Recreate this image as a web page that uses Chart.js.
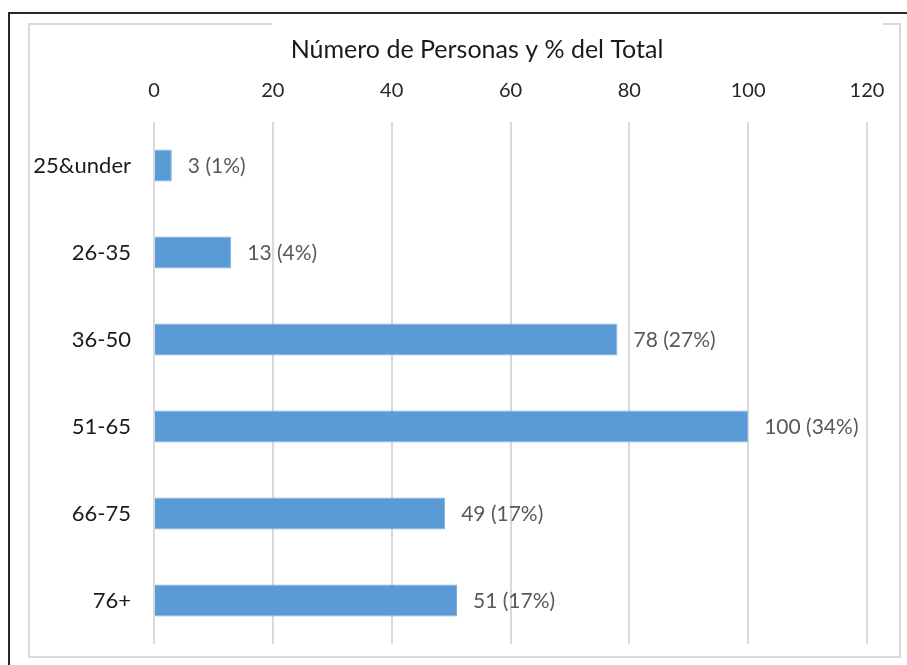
<!DOCTYPE html>
<html>
<head>
<meta charset="utf-8">
<script src="https://cdn.jsdelivr.net/npm/chart.js@4"></script>
<style>
  html, body { margin: 0; padding: 0; background: #fff; }
  #wrap { position: relative; width: 907px; height: 665px; overflow: hidden; }
  .ln { position: absolute; }
  #chart { position: absolute; left: 0; top: 0; }
</style>
</head>
<body>
<div id="wrap">
  <!-- outer black frame (cut off on the right and bottom) -->
  <div class="ln" style="left:8px;top:12px;width:899px;height:2px;background:#262626"></div>
  <div class="ln" style="left:8px;top:12px;width:2px;height:653px;background:#262626"></div>
  <!-- light grey chart box -->
  <div class="ln" style="left:28px;top:23px;width:244px;height:2px;background:#d9d9d9"></div>
  <div class="ln" style="left:883px;top:23px;width:18px;height:2px;background:#d9d9d9"></div>
  <div class="ln" style="left:28px;top:23px;width:2px;height:635px;background:#d9d9d9"></div>
  <div class="ln" style="left:899px;top:23px;width:2px;height:635px;background:#d9d9d9"></div>
  <div class="ln" style="left:28px;top:656px;width:873px;height:2px;background:#d9d9d9"></div>
  <canvas id="chart" width="907" height="665"></canvas>
</div>
<script>
const ageGroups = ['25&under', '26-35', '36-50', '51-65', '66-75', '76+'];
const people = [3, 13, 78, 100, 49, 51];
const percents = ['1%', '4%', '27%', '34%', '17%', '17%'];
const xTicks = [0, 20, 40, 60, 80, 100, 120];
const chartTitle = 'Número de Personas y % del Total';

const fontFam = 'Lato, "Open Sans", sans-serif';

// etiquetas "n (x%)" al final de cada barra + título del eje
const barLabels = {
  id: 'barLabels',
  afterDatasetsDraw(chart) {
    const c = chart.ctx;
    const meta = chart.getDatasetMeta(0);
    c.save();
    c.font = '21px ' + fontFam;
    c.fillStyle = '#595959';
    c.textBaseline = 'middle';
    c.textAlign = 'left';
    meta.data.forEach((bar, i) => {
      c.fillText(people[i] + ' (' + percents[i] + ')', bar.x + 16, bar.y + 1);
    });
    c.font = '25px ' + fontFam;
    c.fillStyle = '#1a1a1a';
    c.textAlign = 'center';
    c.fillText(chartTitle, 477, 50);
    c.restore();
  }
};

const ctx = document.getElementById('chart').getContext('2d');

new Chart(ctx, {
  type: 'bar',
  data: {
    labels: ageGroups,
    datasets: [{
      data: people,
      backgroundColor: '#5b9bd5',
      borderColor: '#7fb0de',
      borderWidth: 1,
      barPercentage: 0.37,
      categoryPercentage: 1
    }]
  },
  options: {
    indexAxis: 'y',
    responsive: false,
    animation: false,
    layout: {
      padding: { left: 0, right: 40, top: 0, bottom: 21 }
    },
    plugins: {
      legend: { display: false },
      tooltip: { enabled: false }
    },
    scales: {
      x: {
        position: 'top',
        min: 0,
        max: 120,
        afterBuildTicks: (scale) => { scale.ticks = xTicks.map(v => ({ value: v })); },
        ticks: {
          font: { size: 20, family: fontFam },
          color: '#262626',
          padding: 19
        },
        grid: {
          color: '#d9d9d9',
          lineWidth: 2,
          drawTicks: false
        },
        border: { display: false },
        afterFit: (scale) => { scale.height = 122; }
      },
      y: {
        ticks: {
          font: { size: 22, family: fontFam },
          color: '#1a1a1a',
          padding: 15
        },
        grid: { display: false },
        border: { display: false },
        afterFit: (scale) => {
          scale.width = 154;
          scale.paddingTop = 0;
          scale.paddingBottom = 0;
        }
      }
    }
  },
  plugins: [barLabels]
});
</script>
</body>
</html>
